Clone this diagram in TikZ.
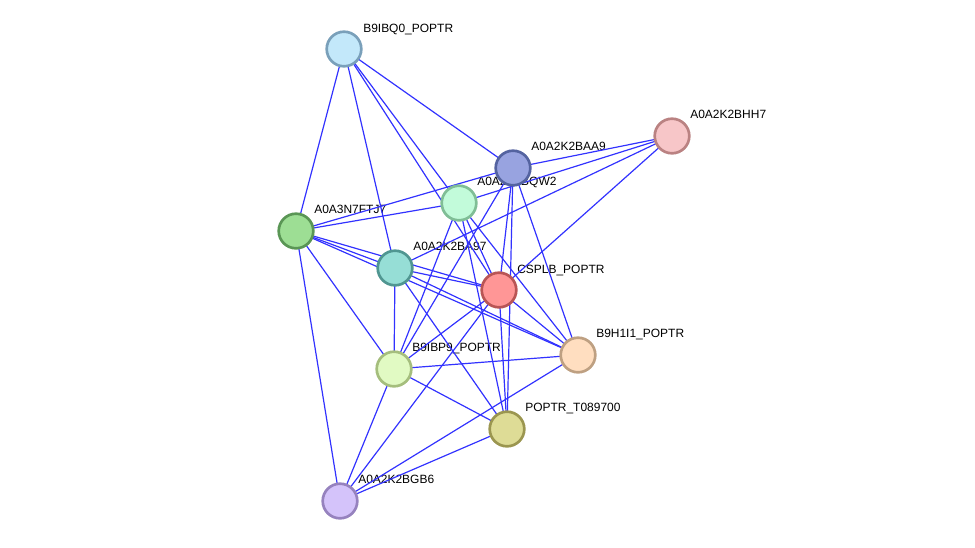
\documentclass[tikz,border=0pt]{standalone}
\usepackage{fontspec}
\setmainfont{Liberation Sans}
\usepackage{tikz}
\usetikzlibrary{backgrounds}

\definecolor{edgeblue}{RGB}{50,50,255}

\tikzset{
    prot/.style={circle, minimum size=26pt, inner sep=0pt, line width=2pt},
    lbl/.style={anchor=base west, inner sep=0pt, font=\fontsize{9}{10}\selectfont},
    link/.style={edgeblue, line width=0.9pt}
}

\begin{document}
\begin{tikzpicture}[x=0.0264cm, y=-0.0264cm]
        \useasboundingbox (0,0) rectangle (975,547);
        \node[prot, fill={rgb,255:red,195;green,232;blue,250}, draw={rgb,255:red,122;green,160;blue,186}] (q0) at (344,49) {};
        \node[prot, fill={rgb,255:red,152;green,163;blue,224}, draw={rgb,255:red,84;green,99;blue,160}] (a9) at (513,168) {};
        \node[prot, fill={rgb,255:red,247;green,198;blue,200}, draw={rgb,255:red,186;green,130;blue,130}] (h7) at (672,136) {};
        \node[prot, fill={rgb,255:red,194;green,251;blue,218}, draw={rgb,255:red,128;green,190;blue,150}] (w2) at (459,203) {};
        \node[prot, fill={rgb,255:red,157;green,222;blue,148}, draw={rgb,255:red,90;green,150;blue,85}] (j7) at (296,231) {};
        \node[prot, fill={rgb,255:red,150;green,222;blue,214}, draw={rgb,255:red,80;green,150;blue,145}] (ba97) at (395,268) {};
        \node[prot, fill={rgb,255:red,255;green,150;blue,150}, draw={rgb,255:red,185;green,85;blue,85}] (cs) at (499,290) {};
        \node[prot, fill={rgb,255:red,255;green,222;blue,192}, draw={rgb,255:red,190;green,160;blue,130}] (i1) at (578,355) {};
        \node[prot, fill={rgb,255:red,225;green,250;blue,195}, draw={rgb,255:red,165;green,190;blue,125}] (p9) at (394,369) {};
        \node[prot, fill={rgb,255:red,222;green,220;blue,150}, draw={rgb,255:red,155;green,150;blue,80}] (t0) at (507,429) {};
        \node[prot, fill={rgb,255:red,212;green,195;blue,250}, draw={rgb,255:red,150;green,130;blue,190}] (b6) at (340,501) {};

        \begin{scope}[on background layer]
            \node[lbl] (q0l) at ([shift={(19,-17)}]q0.center) {B9IBQ0\_POPTR};
            \node[lbl] (a9l) at ([shift={(18,-18)}]a9.center) {A0A2K2BAA9};
            \node[lbl] (h7l) at ([shift={(18,-18)}]h7.center) {A0A2K2BHH7};
            \node[lbl] (w2l) at ([shift={(18,-18)}]w2.center) {A0A2K2BQW2};
            \node[lbl] (j7l) at ([shift={(18,-18)}]j7.center) {A0A3N7FTJ7};
            \node[lbl] (ba97l) at ([shift={(18,-18)}]ba97.center) {A0A2K2BA97};
            \node[lbl] (csl) at ([shift={(18,-17)}]cs.center) {CSPLB\_POPTR};
            \node[lbl] (i1l) at ([shift={(18,-18)}]i1.center) {B9H1I1\_POPTR};
            \node[lbl] (p9l) at ([shift={(18,-18)}]p9.center) {B9IBP9\_POPTR};
            \node[lbl] (t0l) at ([shift={(18,-18)}]t0.center) {POPTR\_T089700};
            \node[lbl] (b6l) at ([shift={(18,-18)}]b6.center) {A0A2K2BGB6};

            \foreach \a/\b in {q0/j7, q0/ba97, q0/w2, q0/cs, q0/a9,
                               h7/a9, h7/w2, h7/ba97, h7/cs,
                               a9/j7, a9/p9, a9/cs, a9/t0, a9/i1,
                               w2/j7, w2/cs, w2/t0, w2/p9, w2/i1,
                               j7/ba97, j7/cs, j7/i1, j7/p9, j7/b6,
                               ba97/cs, ba97/i1, ba97/p9, ba97/t0,
                               cs/p9, cs/t0, cs/i1, cs/b6,
                               p9/i1, p9/t0, p9/b6,
                               t0/b6, i1/b6}
                \draw[link] (\a.center) -- (\b.center);
        \end{scope}
    \end{tikzpicture}
\end{document}
